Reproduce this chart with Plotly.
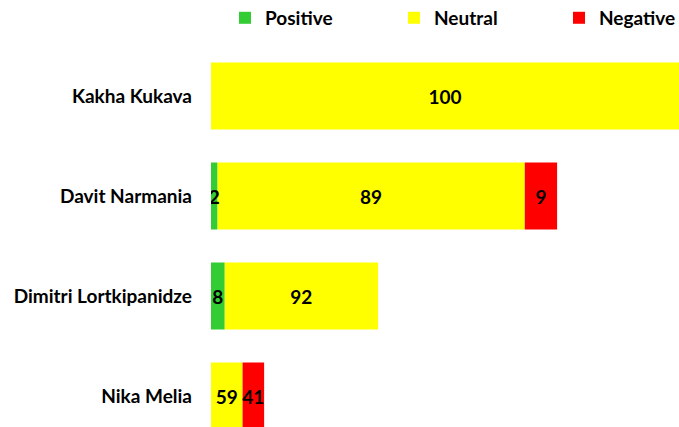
import plotly.graph_objects as go

candidates = ["Kakha Kukava", "Davit Narmania", "Dimitri Lortkipanidze", "Nika Melia"]
# segment lengths (relative volume, Kakha Kukava = 100)
positive_len = [0, 1.35, 2.9, 0]
neutral_len = [100, 65.7, 32.8, 6.75]
negative_len = [0, 6.9, 0, 4.6]
# percentage labels shown on segments
positive_pct = [None, 2, 8, None]
neutral_pct = [100, 89, 92, 59]
negative_pct = [None, 9, None, 41]

FONT = "Lato"
FS = 19

def lab(vals):
    return ["" if v is None else str(v) for v in vals]

pos_base = [0] * len(candidates)
neu_base = [p for p in positive_len]
neg_base = [p + n for p, n in zip(positive_len, neutral_len)]

# drawn in this order so that narrow segments' labels stay on top
series = [
    ("Neutral", neutral_len, neu_base, neutral_pct, "#FFFF00", "legend2", 0.5803),
    ("Negative", negative_len, neg_base, negative_pct, "#FF0000", "legend3", 0.8233),
    ("Positive", positive_len, pos_base, positive_pct, "#33CC33", "legend", 0.3314),
]

fig = go.Figure()
legends = {}
for name, lens, base, pcts, col, lg, lx in series:
    fig.add_trace(go.Bar(
        y=candidates, x=lens, base=base, name=name, orientation="h", legend=lg,
        marker=dict(color=col, line=dict(width=0)),
        text=lab(pcts), textposition="inside", insidetextanchor="middle",
        textangle=0, constraintext="none",
        textfont=dict(family=FONT, size=FS, color="black", weight="bold"),
        hoverinfo="skip",
    ))
    legends[lg] = dict(orientation="h", xref="container", yref="container",
                       x=lx, xanchor="left", y=0.958, yanchor="middle",
                       font=dict(family=FONT, size=FS, color="black", weight="bold"),
                       bgcolor="rgba(0,0,0,0)")

fig.update_layout(
    barmode="overlay", bargap=0.33,
    width=679, height=427,
    margin=dict(l=211, r=0, t=46, b=0, autoexpand=False),
    paper_bgcolor="white", plot_bgcolor="white",
    uniformtext=dict(mode="show", minsize=FS),
    font=dict(family=FONT, size=FS, color="black", weight="bold"),
    showlegend=True,
    **legends,
)
fig.update_xaxes(range=[0, 100], showticklabels=False, showgrid=False, zeroline=False,
                 showline=False, ticks="")
fig.update_yaxes(type="category", categoryorder="array", categoryarray=candidates,
                 range=[3.31, -0.5], showgrid=False, zeroline=False, showline=False,
                 ticks="", ticklabelstandoff=18, automargin=False,
                 tickfont=dict(family=FONT, size=FS, color="black", weight="bold"))

fig.write_html(
    "out.html",
    config={"displayModeBar": False},
    post_script="document.body.style.margin='0';document.body.style.overflow='hidden';",
)
